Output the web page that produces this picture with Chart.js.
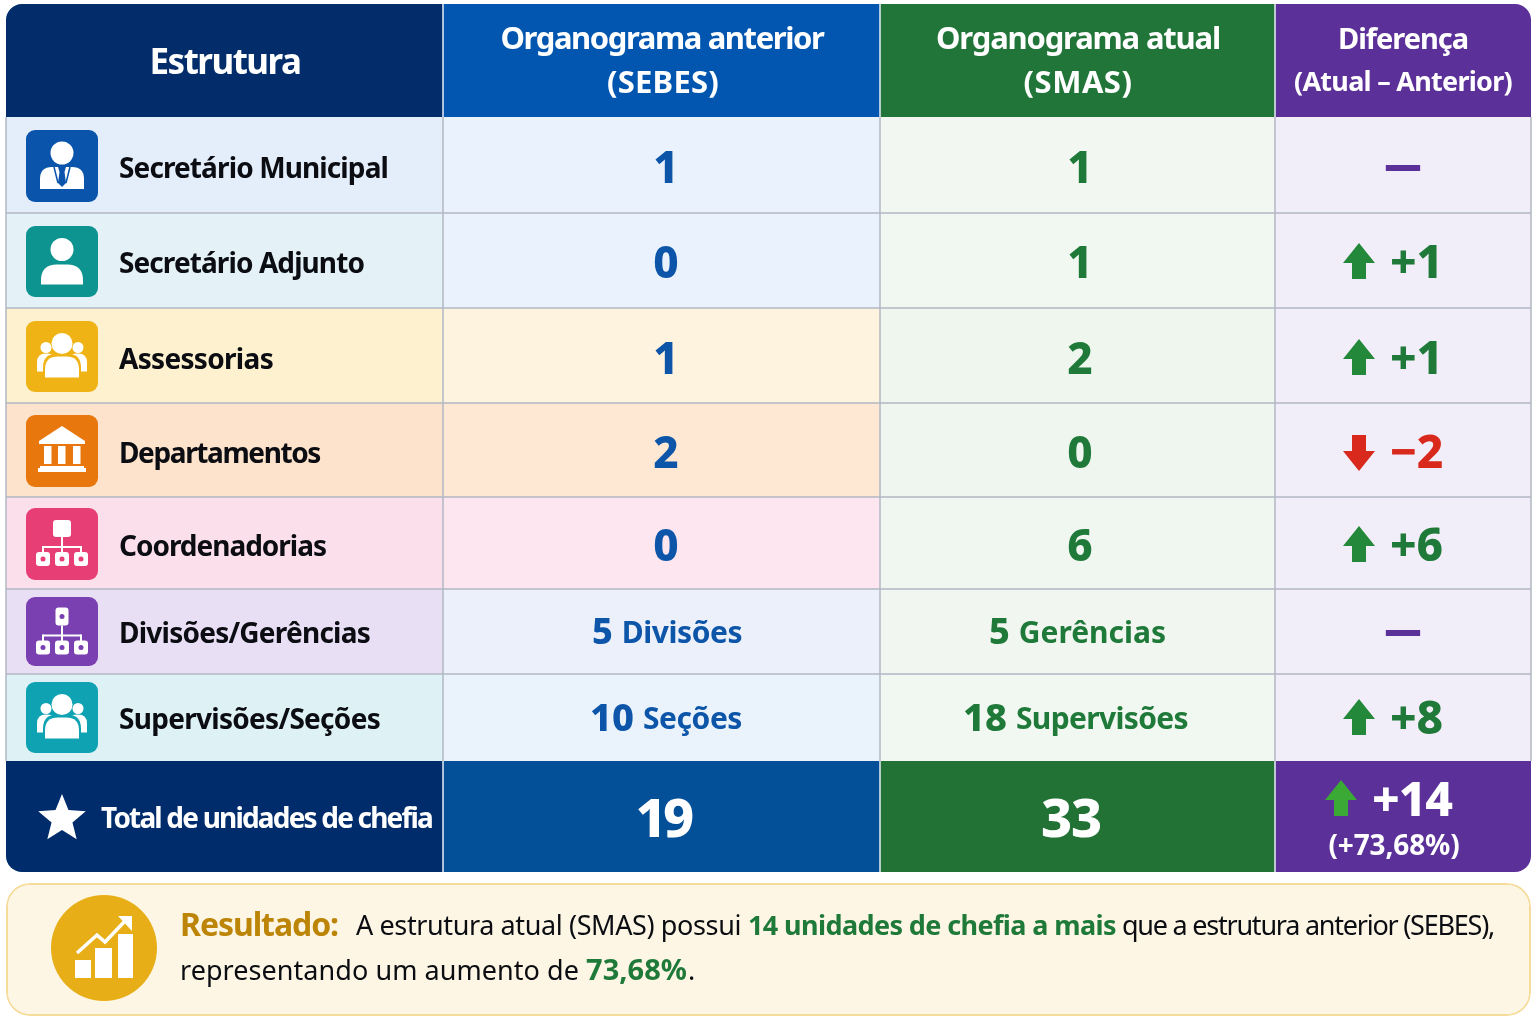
<!DOCTYPE html>
<html lang="pt-BR">
<head>
<meta charset="utf-8">
<title>Comparativo de organogramas</title>
<script src="https://cdn.jsdelivr.net/npm/chart.js@4"></script>
<style>
  html, body { margin: 0; padding: 0; background: #fff; }
  canvas { display: block; }
</style>
</head>
<body>
<canvas id="tabela" width="1536" height="1024"></canvas>
<script>
// dados
const categories = ['Secretário Municipal', 'Secretário Adjunto', 'Assessorias', 'Departamentos', 'Coordenadorias', 'Divisões/Gerências', 'Supervisões/Seções'];
const previousValues = [1, 0, 1, 2, 0, 5, 10];
const previousUnits = ['', '', '', '', '', 'Divisões', 'Seções'];
const currentValues = [1, 1, 2, 0, 6, 5, 18];
const currentUnits = ['', '', '', '', '', 'Gerências', 'Supervisões'];
const differences = [null, 1, 1, -2, 6, null, 8];
const totalLabel = 'Total de unidades de chefia';
const totals = [19, 33];
const totalDifference = 14;
const totalPercent = '(+73,68%)';
const headers = ['Estrutura', ['Organograma anterior', '(SEBES)'], ['Organograma atual', '(SMAS)'], ['Diferença', '(Atual – Anterior)']];

// grade da tabela, em unidades das escalas (iguais aos pixels da página)
const colEdges = [6, 443, 880, 1275, 1531];
const rowEdges = [4, 117, 213, 308, 403, 497, 589, 674, 761, 872];
const panelEdges = [883, 1016];

const headerColors = ['#022c6a', '#0256b0', '#217538', '#5b3098'];
const totalColors = ['#012c6b', '#034f98', '#227236', '#5b3098'];
const rowColors = [
  ['#e3eefa', '#eaf3fd', '#f2f7f1', '#f2eef9'],
  ['#e4f2f8', '#eaf3fd', '#f1f7f1', '#f2eef9'],
  ['#fdf1d0', '#fef3de', '#eff6ee', '#f2eef9'],
  ['#fde3cb', '#fee7d3', '#eff6ef', '#f2eef9'],
  ['#fbe0ec', '#fde6ef', '#f0f6f0', '#f2eef9'],
  ['#e9dff5', '#ebf0fb', '#f1f6f0', '#f2eef9'],
  ['#def2f6', '#eaf3fc', '#f1f7f1', '#f2eef9']
];
const iconColors = ['#0a55ab', '#0e9490', '#efb316', '#e8770e', '#e83e76', '#7a3fb0', '#0ea2b2'];
const iconKinds = ['suit', 'person', 'group', 'bank', 'org', 'org2', 'group'];
const labelWidths = [269, 245, 154, 201, 207, 251, 261];
const iconCenters = [166, 261.5, 356.5, 451, 544, 631.5, 717.5];
const iconHeights = [72, 71, 71, 72, 72, 69, 71];
const textCenters = [167, 262, 358, 452, 545, 632, 718];

const BLUE = '#0c55a8', GREEN = '#1f7a3a', PURPLE = '#5b3098', RED = '#d9281c', UP = '#24883a', INK = '#0b0d12';
const FONT = '"Noto Sans", sans-serif';

function rowColor(r, c) {
  if (r === 0) return headerColors[c];
  if (r === rowEdges.length - 2) return totalColors[c];
  return rowColors[r - 1][c];
}

function cornerRadius(r, c) {
  const last = rowEdges.length - 2;
  return {
    topLeft: r === 0 && c === 0 ? 16 : 0,
    topRight: r === 0 && c === 3 ? 16 : 0,
    bottomLeft: r === last && c === 0 ? 16 : 0,
    bottomRight: r === last && c === 3 ? 16 : 0
  };
}

const datasets = rowEdges.slice(0, -1).map((top, r) => ({
  data: headerColors.map((_, c) => ({ x: [colEdges[c], colEdges[c + 1]], y: (top + rowEdges[r + 1]) / 2 })),
  barThickness: rowEdges[r + 1] - top,
  backgroundColor: headerColors.map((_, c) => rowColor(r, c)),
  borderRadius: headerColors.map((_, c) => cornerRadius(r, c)),
  borderSkipped: false,
  borderWidth: 0,
  inflateAmount: 0,
  grouped: false
}));
// painel do resultado
datasets.push({
  data: [{ x: [colEdges[0], colEdges[4]], y: (panelEdges[0] + panelEdges[1]) / 2 }],
  barThickness: panelEdges[1] - panelEdges[0],
  backgroundColor: '#fdf6e4',
  borderColor: '#f6dc9a',
  borderWidth: 2,
  borderRadius: 24,
  borderSkipped: false,
  inflateAmount: 0,
  grouped: false
});

function label(ctx, text, x, y, o) {
  ctx.save();
  ctx.font = o.font;
  ctx.fillStyle = o.color;
  ctx.textAlign = o.align || 'center';
  ctx.textBaseline = 'middle';
  if (o.width) {
    ctx.letterSpacing = ((o.width - ctx.measureText(text).width) / text.length).toFixed(3) + 'px';
  }
  // a linha média do Noto Sans fica um pouco acima do centro visual
  ctx.fillText(text, x, y + 3);
  if (o.stroke) {
    ctx.strokeStyle = o.color;
    ctx.lineWidth = o.stroke;
    ctx.strokeText(text, x, y + 3);
  }
  ctx.restore();
}

function countWithUnit(ctx, n, unit, left, right, y, color, numPx) {
  const numFont = '800 ' + numPx + 'px ' + FONT;
  const unitFont = '700 30px ' + FONT;
  const num = String(n);
  ctx.font = numFont;
  const nw = ctx.measureText(num).width;
  const gap = 9;
  label(ctx, num, left, y, { font: numFont, color: color, align: 'left' });
  label(ctx, unit, left + nw + gap, y, { font: unitFont, color: color, align: 'left', width: right - left - nw - gap });
}

function arrow(ctx, x, y, dir, color) {
  ctx.save();
  ctx.translate(x, y);
  ctx.scale(1, dir);
  ctx.fillStyle = color;
  ctx.beginPath();
  ctx.moveTo(0, -19);
  ctx.lineTo(16, 1);
  ctx.lineTo(7, 1);
  ctx.lineTo(7, 17);
  ctx.lineTo(-7, 17);
  ctx.lineTo(-7, 1);
  ctx.lineTo(-16, 1);
  ctx.closePath();
  ctx.fill();
  ctx.restore();
}

function circle(ctx, x, y, r) {
  ctx.beginPath();
  ctx.arc(x, y, r, 0, Math.PI * 2);
  ctx.fill();
}

function dome(ctx, x0, x1, top, bottom, r) {
  ctx.beginPath();
  ctx.moveTo(x0, bottom);
  ctx.lineTo(x0, top + r);
  ctx.quadraticCurveTo(x0, top, x0 + r, top);
  ctx.lineTo(x1 - r, top);
  ctx.quadraticCurveTo(x1, top, x1, top + r);
  ctx.lineTo(x1, bottom);
  ctx.closePath();
  ctx.fill();
}

function orgChart(ctx, color, boxW, boxTop, boxBottom, boxDot) {
  ctx.beginPath(); ctx.roundRect(-boxW / 2, boxTop, boxW, boxBottom - boxTop, 3); ctx.fill();
  if (boxDot) {
    ctx.fillStyle = color;
    circle(ctx, 0, (boxTop + boxBottom) / 2, 2.5);
    ctx.fillStyle = '#fff';
  }
  ctx.fillRect(-1, boxBottom, 2, 12);
  ctx.fillRect(-19, boxBottom + 9, 38, 2);
  [-19, 0, 19].forEach(x => {
    ctx.fillRect(x - 1, boxBottom + 9, 2, 8);
    ctx.beginPath(); ctx.roundRect(x - 7, boxBottom + 15, 14, 14, 3); ctx.fill();
    ctx.fillStyle = color;
    circle(ctx, x, boxBottom + 22, 2.5);
    ctx.fillStyle = '#fff';
  });
}

const iconPainters = {
  suit(ctx, color) {
    circle(ctx, 0, -13, 11.5);
    dome(ctx, -22, 22, 1, 23, 12);
    ctx.fillStyle = color;
    ctx.beginPath();
    ctx.moveTo(-4, 1); ctx.lineTo(4, 1); ctx.lineTo(2.5, 6); ctx.lineTo(4, 17); ctx.lineTo(0, 21);
    ctx.lineTo(-4, 17); ctx.lineTo(-2.5, 6); ctx.closePath();
    ctx.fill();
    ctx.strokeStyle = color;
    ctx.lineWidth = 1.5;
    ctx.beginPath();
    ctx.moveTo(-8, 1); ctx.lineTo(-4, 17);
    ctx.moveTo(8, 1); ctx.lineTo(4, 17);
    ctx.stroke();
  },
  person(ctx) {
    circle(ctx, 0, -12, 11.5);
    dome(ctx, -21, 21, 3, 23, 16);
  },
  group(ctx, color) {
    circle(ctx, -16, -9, 5.5);
    circle(ctx, 16, -9, 5.5);
    dome(ctx, -25, -6, -3, 15, 9);
    dome(ctx, 6, 25, -3, 15, 9);
    ctx.fillStyle = color;
    dome(ctx, -19, 19, -3, 23, 14);
    ctx.fillStyle = '#fff';
    circle(ctx, 0, -13, 10.5);
    dome(ctx, -17, 17, 0, 21, 13);
  },
  bank(ctx) {
    ctx.beginPath();
    ctx.moveTo(0, -25); ctx.lineTo(23, -10); ctx.lineTo(23, -7); ctx.lineTo(-23, -7); ctx.lineTo(-23, -10);
    ctx.closePath();
    ctx.fill();
    [-18, -4, 11].forEach(x => ctx.fillRect(x, -5, 7.5, 18));
    ctx.fillRect(-22, 15, 44, 2);
    ctx.fillRect(-24, 17, 48, 4);
  },
  org(ctx, color) {
    orgChart(ctx, color, 18, -24, -7, false);
  },
  org2(ctx, color) {
    orgChart(ctx, color, 13, -24, -6, true);
  }
};

function drawIcon(ctx, kind, color, cx, cy, h) {
  ctx.save();
  ctx.fillStyle = color;
  ctx.beginPath();
  ctx.roundRect(cx - 36, cy - h / 2, 72, h, 9);
  ctx.fill();
  ctx.translate(cx, cy);
  ctx.fillStyle = '#fff';
  iconPainters[kind](ctx, color);
  ctx.restore();
}

function drawStar(ctx, cx, cy, R, r) {
  ctx.beginPath();
  for (let i = 0; i < 10; i++) {
    const rad = i % 2 ? r : R;
    const a = -Math.PI / 2 + i * Math.PI / 5;
    ctx.lineTo(cx + rad * Math.cos(a), cy + rad * Math.sin(a));
  }
  ctx.closePath();
  ctx.fillStyle = '#fff';
  ctx.fill();
}

function drawResultBadge(ctx, cx, cy) {
  ctx.save();
  ctx.fillStyle = '#e8ae17';
  circle(ctx, cx, cy, 53);
  ctx.translate(cx, cy);
  ctx.fillStyle = '#fff';
  ctx.fillRect(-29, 12, 16, 18);
  ctx.fillRect(-9, 0, 17, 30);
  ctx.fillRect(14, -14, 15, 44);
  ctx.strokeStyle = '#fff';
  ctx.lineWidth = 3.5;
  ctx.beginPath();
  ctx.moveTo(-27, 5); ctx.lineTo(-7, -13); ctx.lineTo(1, -6); ctx.lineTo(21, -27);
  ctx.stroke();
  ctx.beginPath();
  ctx.moveTo(14, -32); ctx.lineTo(28, -32); ctx.lineTo(28, -17);
  ctx.closePath();
  ctx.fill();
  ctx.restore();
}

const tablePlugin = {
  id: 'tablePlugin',
  afterDatasetsDraw(chart) {
    const ctx = chart.ctx;
    const X = v => chart.scales.x.getPixelForValue(v);
    const Y = v => chart.scales.y.getPixelForValue(v);
    const lastRow = rowEdges.length - 2;

    // linhas da grade
    ctx.save();
    ctx.strokeStyle = '#b3b8c3';
    ctx.lineWidth = 1.5;
    ctx.beginPath();
    for (let r = 2; r < lastRow; r++) {
      ctx.moveTo(X(colEdges[0]), Y(rowEdges[r]));
      ctx.lineTo(X(colEdges[4]), Y(rowEdges[r]));
    }
    colEdges.forEach(e => {
      ctx.moveTo(X(e), Y(rowEdges[1]));
      ctx.lineTo(X(e), Y(rowEdges[lastRow]));
    });
    ctx.stroke();
    ctx.strokeStyle = '#e8eef6';
    ctx.lineWidth = 1.5;
    ctx.beginPath();
    colEdges.slice(1, 4).forEach(e => {
      ctx.moveTo(X(e), Y(rowEdges[0]));
      ctx.lineTo(X(e), Y(rowEdges[1]));
      ctx.moveTo(X(e), Y(rowEdges[lastRow]));
      ctx.lineTo(X(e), Y(rowEdges[lastRow + 1]));
    });
    ctx.stroke();
    ctx.restore();

    // cabeçalho
    label(ctx, headers[0], 225, Y(61), { font: '700 35px ' + FONT, color: '#fff', width: 151 });
    label(ctx, headers[1][0], 662, Y(37), { font: '700 31px ' + FONT, color: '#fff', width: 323 });
    label(ctx, headers[1][1], 663, Y(81), { font: '700 31px ' + FONT, color: '#fff', width: 112 });
    label(ctx, headers[2][0], 1078, Y(37), { font: '700 31px ' + FONT, color: '#fff', width: 284 });
    label(ctx, headers[2][1], 1078, Y(81), { font: '700 31px ' + FONT, color: '#fff', width: 109 });
    label(ctx, headers[3][0], 1403, Y(38), { font: '700 29px ' + FONT, color: '#fff', width: 130 });
    label(ctx, headers[3][1], 1403, Y(80), { font: '700 27px ' + FONT, color: '#fff', width: 218 });

    // linhas de dados
    categories.forEach((name, i) => {
      const cy = Y(textCenters[i]);
      drawIcon(ctx, iconKinds[i], iconColors[i], X(62), Y(iconCenters[i]), iconHeights[i]);
      label(ctx, name, X(119), cy, { font: '700 28px ' + FONT, color: INK, align: 'left', width: labelWidths[i] });

      if (previousUnits[i]) {
        const numPx = previousValues[i] >= 10 ? 38 : 36;
        countWithUnit(ctx, previousValues[i], previousUnits[i], previousValues[i] >= 10 ? X(590) : X(592), X(742), cy - 1, BLUE, numPx);
        countWithUnit(ctx, currentValues[i], currentUnits[i], currentValues[i] >= 10 ? X(963) : X(989), currentValues[i] >= 10 ? X(1188) : X(1166), cy - 1, GREEN, numPx);
      } else {
        label(ctx, String(previousValues[i]), X(666), cy, { font: '800 44px ' + FONT, color: BLUE });
        label(ctx, String(currentValues[i]), X(1080), cy, { font: '800 44px ' + FONT, color: GREEN });
      }

      const d = differences[i];
      if (d === null) {
        label(ctx, '—', X(1403), cy - 2, { font: '700 35px ' + FONT, color: PURPLE, stroke: 2 });
      } else {
        const color = d > 0 ? GREEN : RED;
        arrow(ctx, X(1359), cy, d > 0 ? 1 : -1, d > 0 ? UP : RED);
        const txt = (d > 0 ? '+' : '−') + Math.abs(d);
        label(ctx, txt, X(1390), cy, { font: '800 46px ' + FONT, color: color, align: 'left' });
      }
    });

    // total
    drawStar(ctx, X(62), Y(819), 25, 11);
    label(ctx, totalLabel, X(101), Y(817), { font: '700 28px ' + FONT, color: '#fff', align: 'left', width: 331 });
    label(ctx, String(totals[0]), X(663), Y(819), { font: '800 54px ' + FONT, color: '#fff', width: 55 });
    label(ctx, String(totals[1]), X(1071), Y(819), { font: '800 54px ' + FONT, color: '#fff', width: 60 });
    arrow(ctx, X(1341), Y(799), 1, '#3aa935');
    label(ctx, '+' + totalDifference, X(1372), Y(799), { font: '800 48px ' + FONT, color: '#fff', align: 'left', width: 80 });
    label(ctx, totalPercent, X(1394), Y(844), { font: '700 28px ' + FONT, color: '#fff', width: 131 });

    // resultado
    drawResultBadge(ctx, X(104), Y(948));
    const regular = '400 27px ' + FONT, strong = '700 27px ' + FONT;
    label(ctx, 'Resultado:', X(180), Y(924), { font: '700 32px ' + FONT, color: '#bc8508', align: 'left', width: 158 });
    label(ctx, 'A estrutura atual (SMAS) possui', X(356), Y(924), { font: regular, color: INK, align: 'left', width: 385 });
    label(ctx, '14 unidades de chefia a mais', X(748), Y(924), { font: strong, color: GREEN, align: 'left', width: 368 });
    label(ctx, 'que a estrutura anterior (SEBES),', X(1122), Y(924), { font: regular, color: INK, align: 'left', width: 372 });
    label(ctx, 'representando um aumento de', X(180), Y(969), { font: regular, color: INK, align: 'left', width: 399 });
    label(ctx, '73,68%', X(586), Y(969), { font: '700 29px ' + FONT, color: GREEN, align: 'left', width: 101 });
    label(ctx, '.', X(688), Y(969), { font: regular, color: INK, align: 'left' });
  }
};

new Chart(document.getElementById('tabela').getContext('2d'), {
  type: 'bar',
  data: { datasets: datasets },
  options: {
    indexAxis: 'y',
    responsive: false,
    animation: false,
    devicePixelRatio: 1,
    events: [],
    layout: { padding: 0 },
    plugins: { legend: { display: false }, tooltip: { enabled: false } },
    scales: {
      x: { type: 'linear', min: 0, max: 1536, display: false },
      y: { type: 'linear', min: 0, max: 1024, reverse: true, offset: false, display: false }
    }
  },
  plugins: [tablePlugin]
});
</script>
</body>
</html>
